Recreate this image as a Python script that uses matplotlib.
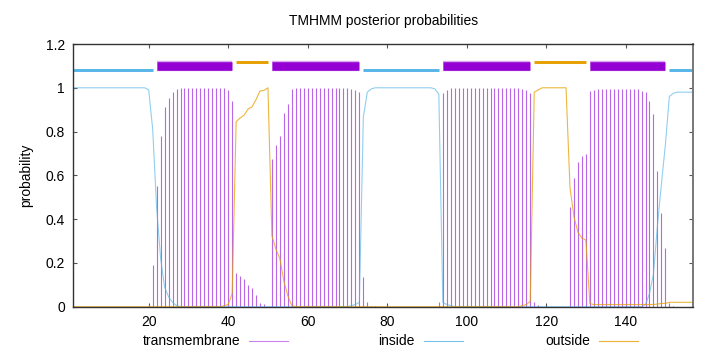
import matplotlib.pyplot as plt
from matplotlib.lines import Line2D

plt.rcParams['font.family'] = ['Liberation Sans', 'DejaVu Sans']

# ---------- data ----------

residues = list(range(1, 158))

transmembrane = [
    0, 0, 0, 0, 0, 0, 0, 0, 0, 0,
    0, 0, 0, 0, 0, 0, 0, 0, 0, 0.01,
    0.19, 0.55, 0.78, 0.91, 0.955, 0.98, 0.995, 1, 1, 1,
    1, 1, 1, 1, 1, 1, 1, 1, 1, 0.99,
    0.94, 0.155, 0.138, 0.125, 0.097, 0.087, 0.054, 0.015, 0.012, 0,
    0.676, 0.737, 0.78, 0.883, 0.925, 0.995, 1, 1, 1, 1,
    1, 1, 1, 1, 1, 1, 1, 1, 1, 1,
    0.995, 0.99, 0.98, 0.135, 0.02, 0.005, 0.003, 0, 0, 0,
    0, 0, 0, 0, 0, 0, 0, 0, 0, 0,
    0, 0, 0.02, 0.975, 0.99, 1, 1, 1, 1, 1,
    1, 1, 1, 1, 1, 1, 1, 1, 1, 1,
    1, 1, 1, 0.995, 0.99, 0.975, 0.02, 0.01, 0, 0,
    0, 0, 0, 0, 0, 0.456, 0.59, 0.66, 0.687, 0.696,
    0.986, 0.99, 0.993, 0.993, 0.993, 0.993, 0.993, 0.993, 0.993, 0.993,
    0.993, 0.993, 0.993, 0.986, 0.98, 0.94, 0.878, 0.62, 0.427, 0.27,
    0.015, 0.005, 0, 0, 0, 0, 0,
]

inside = [
    1, 1, 1, 1, 1, 1, 1, 1, 1, 1,
    1, 1, 1, 1, 1, 1, 1, 1, 1, 0.99,
    0.81, 0.45, 0.22, 0.09, 0.045, 0.02, 0.005, 0, 0, 0,
    0, 0, 0, 0, 0, 0, 0, 0, 0, 0,
    0, 0, 0, 0, 0, 0, 0, 0, 0, 0,
    0, 0, 0, 0, 0, 0, 0, 0, 0, 0,
    0, 0, 0, 0, 0, 0, 0, 0, 0, 0,
    0.005, 0.01, 0.02, 0.865, 0.98, 0.995, 1, 1, 1, 1,
    1, 1, 1, 1, 1, 1, 1, 1, 1, 1,
    1, 0.995, 0.97, 0.02, 0.01, 0.005, 0, 0, 0, 0,
    0, 0, 0, 0, 0, 0, 0, 0, 0, 0,
    0, 0, 0, 0, 0, 0, 0, 0, 0, 0,
    0, 0, 0, 0, 0, 0, 0, 0, 0, 0,
    0, 0, 0, 0, 0, 0, 0, 0, 0, 0,
    0, 0, 0, 0, 0.01, 0.06, 0.15, 0.37, 0.56, 0.74,
    0.96, 0.975, 0.98, 0.98, 0.98, 0.98, 0.98,
]

outside = [
    0, 0, 0, 0, 0, 0, 0, 0, 0, 0,
    0, 0, 0, 0, 0, 0, 0, 0, 0, 0,
    0, 0, 0, 0, 0, 0, 0, 0, 0, 0,
    0, 0, 0, 0, 0, 0, 0, 0, 0.005, 0.01,
    0.06, 0.845, 0.862, 0.875, 0.903, 0.913, 0.946, 0.985, 0.988, 1,
    0.324, 0.263, 0.22, 0.117, 0.05, 0.005, 0, 0, 0, 0,
    0, 0, 0, 0, 0, 0, 0, 0, 0, 0,
    0, 0, 0, 0, 0, 0, 0, 0, 0, 0,
    0, 0, 0, 0, 0, 0, 0, 0, 0, 0,
    0, 0, 0, 0, 0, 0, 0, 0, 0, 0,
    0, 0, 0, 0, 0, 0, 0, 0, 0, 0,
    0, 0, 0, 0.005, 0.01, 0.025, 0.98, 0.99, 1, 1,
    1, 1, 1, 1, 1, 0.544, 0.41, 0.34, 0.313, 0.304,
    0.014, 0.01, 0.01, 0.01, 0.01, 0.01, 0.01, 0.01, 0.01, 0.01,
    0.01, 0.01, 0.01, 0.01, 0.01, 0.01, 0.01, 0.012, 0.015, 0.015,
    0.02, 0.02, 0.02, 0.02, 0.02, 0.02, 0.02,
]

# predicted topology
seg_kind = ["inside", "TM", "outside", "TM", "inside", "TM", "outside", "TM", "inside"]
seg_start = [1, 22, 42, 51, 74, 94, 117, 131, 151]
seg_end = [21, 41, 50, 73, 93, 116, 130, 150, 157]

legend_labels = ["transmembrane", "inside", "outside"]

# ---------- style ----------
PURPLE = "#9400D3"
BAR_PURPLE = "#bb66e6"
BLUE = "#56B4E9"
ORANGE = "#E69F00"

fig = plt.figure(figsize=(7.2, 3.52), dpi=100)
ax = fig.add_axes([73.2 / 720, 45.3 / 352, 620 / 720, 262.7 / 352])

ax.vlines(residues, 0, transmembrane, colors=BAR_PURPLE, lw=0.8)
ax.plot(residues, inside, color=BLUE, lw=0.8, alpha=0.65)
ax.plot(residues, outside, color=ORANGE, lw=0.8, alpha=0.75)

# topology bars on top
for kind, s, e in zip(seg_kind, seg_start, seg_end):
    if kind == "TM":
        ax.plot([s, e], [1.1, 1.1], color="#d9a8ee", lw=7.4, solid_capstyle="butt")
        ax.plot([s, e], [1.1, 1.1], color=PURPLE, lw=6.2, solid_capstyle="butt")
    elif kind == "inside":
        ax.plot([s, e], [1.079, 1.079], color=BLUE, lw=2.1, solid_capstyle="butt")
    else:
        ax.plot([s, e], [1.12, 1.12], color=ORANGE, lw=2.1, solid_capstyle="butt")

ax.set_xlim(1, 157)
ax.set_ylim(0, 1.2)
ax.set_xticks([20, 40, 60, 80, 100, 120, 140])
ax.set_yticks([0, 0.2, 0.4, 0.6, 0.8, 1, 1.2])
ax.set_yticklabels(["0", "0.2", "0.4", "0.6", "0.8", "1", "1.2"])
ax.tick_params(direction="in", length=3, width=0.8, labelsize=10, pad=6,
               top=True, right=True, color="#555555")
for sp in ax.spines.values():
    sp.set_linewidth(1.0)
    sp.set_color("#333333")
ax.spines["right"].set_color("#777777")
ax.spines["right"].set_linewidth(1.4)

ax.set_title("TMHMM posterior probabilities", fontsize=10, pad=14)
ax.set_ylabel("probability", fontsize=10, labelpad=9)

# legend below the plot, gnuplot style (text, then sample)
text_right = [240, 415, 590]
line_x0 = [249, 424, 599]
line_x1 = [288, 463, 638]
colors = [BAR_PURPLE, BLUE, ORANGE]
y_leg = 1 - 341 / 352
for lab, tr, x0, x1, c in zip(legend_labels, text_right, line_x0, line_x1, colors):
    fig.text(tr / 720, y_leg, lab, ha="right", va="center", fontsize=10)
    fig.add_artist(Line2D([x0 / 720, x1 / 720], [y_leg, y_leg], color=c, lw=0.8, alpha=0.8))

fig.savefig("out.png", dpi=100)
